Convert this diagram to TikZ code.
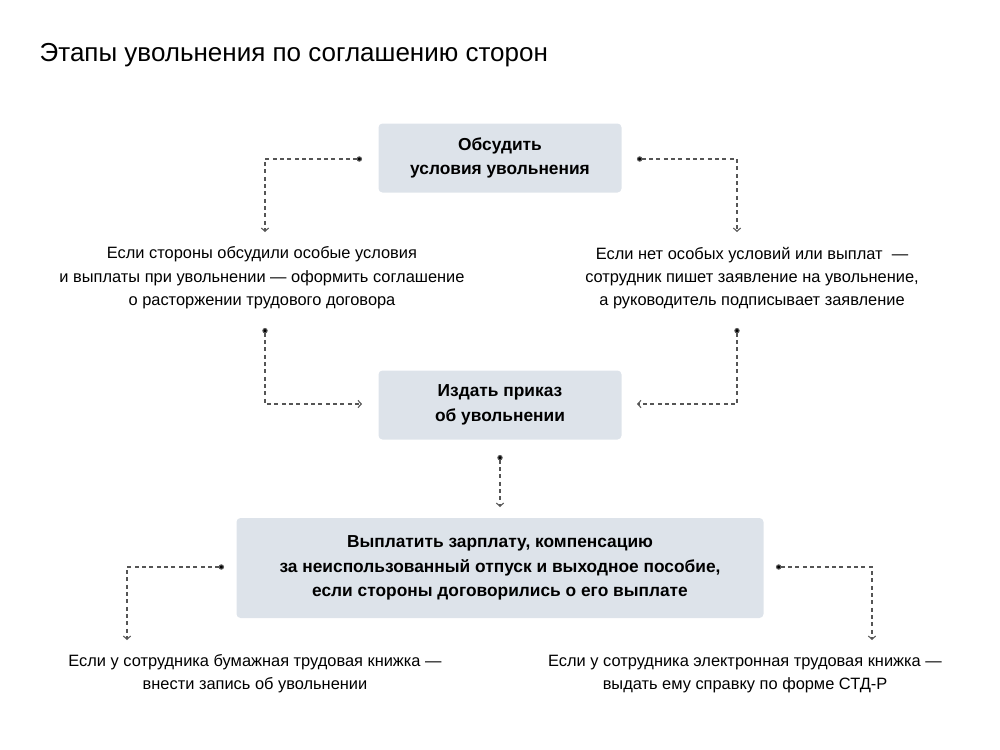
\documentclass[tikz,border=0pt]{standalone}
\usepackage{fontspec}
\setmainfont{Liberation Sans}
\usetikzlibrary{arrows.meta}
\definecolor{boxFill}{HTML}{DDE3EA}
\definecolor{lineGray}{HTML}{555555}
\begin{document}
\begin{tikzpicture}[
    x=0.75pt, y=-0.75pt,
    % Step boxes: light fill, rounded corners, bold text
    stepBox/.style={
        fill=boxFill, rounded corners=3pt, align=center,
        font=\bfseries\fontsize{13}{18.5}\selectfont, inner sep=0pt
    },
    % Plain note text
    noteStyle/.style={
        align=center, font=\fontsize{12.3}{17.5}\selectfont
    },
    % Dashed connector: dot at start, open chevron at end
    linkStyle/.style={
        draw=lineGray, dash pattern=on 3pt off 2.5pt, line width=0.8pt,
        {Circle[length=4pt,fill=black]}-{Straight Barb[length=2.5pt,width=5.5pt]}
    }
]
\useasboundingbox (0,0) rectangle (1000,750);

%--- Title ---
\node[anchor=west, font=\fontsize{19.5}{22}\selectfont] (title) at (35,55)
  {Этапы увольнения по соглашению сторон};

%--- Boxes ---
\node[stepBox, minimum width=243*0.75pt, minimum height=69*0.75pt] (discuss) at (500,158)
  {Обсудить\\условия увольнения};
\node[stepBox, minimum width=243*0.75pt, minimum height=69*0.75pt] (order) at (500,405)
  {Издать приказ\\об увольнении};
\node[stepBox, minimum width=527*0.75pt, minimum height=100*0.75pt] (pay) at (500,568)
  {Выплатить зарплату, компенсацию\\за неиспользованный отпуск и выходное пособие,\\если стороны договорились о его выплате};

%--- Notes ---
\node[noteStyle] (special) at (262,278)
  {Если стороны обсудили особые условия\\и выплаты при увольнении — оформить соглашение\\о расторжении трудового договора};
\node[noteStyle] (plain) at (752,278)
  {Если нет особых условий или выплат \ —\\сотрудник пишет заявление на увольнение,\\а руководитель подписывает заявление};
\node[noteStyle] (paper) at (255,674)
  {Если у сотрудника бумажная трудовая книжка —\\внести запись об увольнении};
\node[noteStyle] (digital) at (745,674)
  {Если у сотрудника электронная трудовая книжка —\\выдать ему справку по форме СТД-Р};

%--- Connector ends ---
\coordinate (d1) at (362,159);  \coordinate (e1) at (265,232);
\coordinate (d2) at (637,159);  \coordinate (e2) at (737,232);
\coordinate (d3) at (265,328);  \coordinate (e3) at (362,404);
\coordinate (d4) at (737,328);  \coordinate (e4) at (637,404);
\coordinate (d5) at (500,455);  \coordinate (e5) at (500,507);
\coordinate (d6) at (224,567);  \coordinate (e6) at (127,640);
\coordinate (d7) at (776,567);  \coordinate (e7) at (872,640);

%--- Connectors ---
\draw[linkStyle] (d1) -| (e1);
\draw[linkStyle] (d2) -| (e2);
\draw[linkStyle] (d3) |- (e3);
\draw[linkStyle] (d4) |- (e4);
\draw[linkStyle] (d5) -- (e5);
\draw[linkStyle] (d6) -| (e6);
\draw[linkStyle] (d7) -| (e7);
\end{tikzpicture}
\end{document}
